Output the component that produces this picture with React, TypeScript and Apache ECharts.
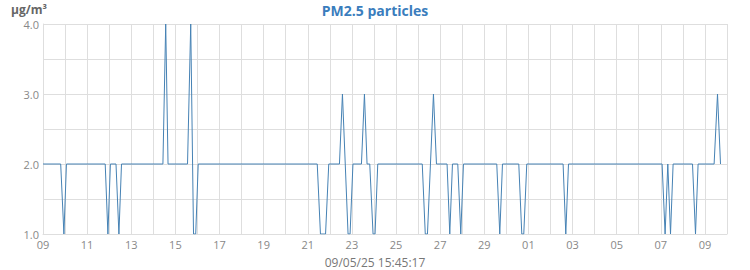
import React, { useEffect, useRef } from 'react';
import * as echarts from 'echarts';

const TITLE = 'PM2.5 particles';
const UNIT = 'µg/m³';
const TIMESTAMP = '09/05/25 15:45:17';

const X_MIN = '2025-04-09 00:00';
const X_MAX = '2025-05-10 00:00';
const Y_MIN = 1;
const Y_MAX = 4;
const Y_STEP = 0.5;

// vertices of the PM2.5 trace (time, value)
const times = [
  '2025-04-09 00:00', '2025-04-09 19:15', '2025-04-09 22:45', '2025-04-10 01:30',
  '2025-04-11 19:40', '2025-04-11 22:36', '2025-04-12 01:19',
  '2025-04-12 07:25', '2025-04-12 10:34', '2025-04-12 13:24',
  '2025-04-14 10:26', '2025-04-14 13:29', '2025-04-14 16:00',
  '2025-04-15 13:12', '2025-04-15 16:41', '2025-04-15 19:44', '2025-04-15 22:07', '2025-04-16 00:50',
  '2025-04-21 10:18', '2025-04-21 13:47', '2025-04-21 19:20', '2025-04-21 22:49',
  '2025-04-22 10:27', '2025-04-22 13:43', '2025-04-22 19:49', '2025-04-22 22:00', '2025-04-23 01:08',
  '2025-04-23 10:23', '2025-04-23 13:39', '2025-04-23 16:29', '2025-04-23 19:25', '2025-04-23 23:00', '2025-04-24 01:11', '2025-04-24 04:07',
  '2025-04-26 04:32', '2025-04-26 07:48', '2025-04-26 10:11', '2025-04-26 16:43', '2025-04-26 19:59',
  '2025-04-27 07:31', '2025-04-27 10:27', '2025-04-27 13:23',
  '2025-04-27 19:09', '2025-04-27 22:25', '2025-04-28 01:21',
  '2025-04-29 13:35', '2025-04-29 16:50', '2025-04-29 19:47',
  '2025-04-30 13:31', '2025-04-30 16:47', '2025-04-30 18:57', '2025-04-30 22:13',
  '2025-05-02 13:43', '2025-05-02 16:39', '2025-05-02 19:35',
  '2025-05-07 01:25', '2025-05-07 04:40', '2025-05-07 07:37', '2025-05-07 10:33', '2025-05-07 13:23',
  '2025-05-08 10:29', '2025-05-08 13:45', '2025-05-08 16:34',
  '2025-05-09 09:59', '2025-05-09 13:41', '2025-05-09 16:56',
];
const values = [
  2, 2, 1, 2,
  2, 1, 2,
  2, 1, 2,
  2, 4, 2,
  2, 4, 1, 1, 2,
  2, 1, 1, 2,
  2, 3, 1, 1, 2,
  2, 3, 2, 2, 1, 1, 2,
  2, 1, 1, 3, 2,
  2, 1, 2,
  2, 1, 2,
  2, 1, 2,
  2, 1, 1, 2,
  2, 1, 2,
  2, 1, 2, 1, 2,
  2, 1, 2,
  2, 3, 2,
];

const DAY = 86400000;
const toMs = (s: string) => {
  const [d, t] = s.split(' ');
  const [Y, M, D] = d.split('-').map(Number);
  const [h, m] = t.split(':').map(Number);
  return Date.UTC(Y, M - 1, D, h, m);
};
const pad = (n: number) => (n < 10 ? '0' + n : '' + n);

const FONT = '"Open Sans", "Noto Sans", sans-serif';
const GRID_COLOR = '#dedede';
const LINE_COLOR = '#4682b4';

export default function App() {
  const ref = useRef<HTMLDivElement>(null);
  useEffect(() => {
    if (!ref.current) return;
    const chart = echarts.init(ref.current, null, { renderer: 'svg' });
    const xMin = toMs(X_MIN);
    const xMax = toMs(X_MAX);
    chart.setOption({
      animation: false,
      title: [
        {
          text: TITLE,
          left: 'center',
          top: 3,
          padding: 0,
          textStyle: { color: '#3a7dbd', fontSize: 14, fontWeight: 'bold', fontFamily: FONT },
        },
        {
          text: UNIT,
          left: 11,
          top: 3,
          padding: 0,
          textStyle: { color: '#666', fontSize: 12, lineHeight: 12, fontWeight: 'bold', fontFamily: FONT },
        },
        {
          text: TIMESTAMP,
          left: 'center',
          top: 256,
          padding: 0,
          textStyle: { color: '#777', fontSize: 12, fontWeight: 'normal', fontFamily: FONT },
        },
      ],
      grid: { left: 43, right: 23, top: 24, bottom: 36 },
      xAxis: {
        type: 'value',
        min: xMin,
        max: xMax,
        interval: DAY,
        axisLine: { show: true, lineStyle: { color: GRID_COLOR, width: 1 } },
        axisTick: { show: false },
        splitLine: { show: true, lineStyle: { color: GRID_COLOR, width: 1 } },
        axisLabel: {
          color: '#888',
          fontSize: 11,
          fontFamily: FONT,
          margin: 5,
          showMaxLabel: false,
          formatter: (v: number) => {
            const idx = Math.round((v - xMin) / DAY);
            if (idx % 2 !== 0) return '';
            return pad(new Date(v).getUTCDate());
          },
        },
      },
      yAxis: {
        type: 'value',
        min: Y_MIN,
        max: Y_MAX,
        interval: Y_STEP,
        axisLine: { show: true, lineStyle: { color: GRID_COLOR, width: 1 } },
        axisTick: { show: false },
        splitLine: { show: true, lineStyle: { color: GRID_COLOR, width: 1 } },
        axisLabel: {
          color: '#888',
          fontSize: 11,
          lineHeight: 11,
          fontFamily: FONT,
          margin: 4,
          formatter: (v: number) => (Math.abs(v - Math.round(v)) < 1e-9 ? v.toFixed(1) : ''),
        },
      },
      series: [
        {
          type: 'line',
          data: times.map((t, i) => [toMs(t), values[i]]),
          showSymbol: false,
          symbol: 'none',
          lineStyle: { color: LINE_COLOR, width: 1 },
          itemStyle: { color: LINE_COLOR },
        },
      ],
    });
    return () => chart.dispose();
  }, []);
  return (
    <div
      ref={ref}
      style={{ position: 'fixed', left: 0, top: 0, width: 750, height: 270, background: '#fff' }}
    />
  );
}
